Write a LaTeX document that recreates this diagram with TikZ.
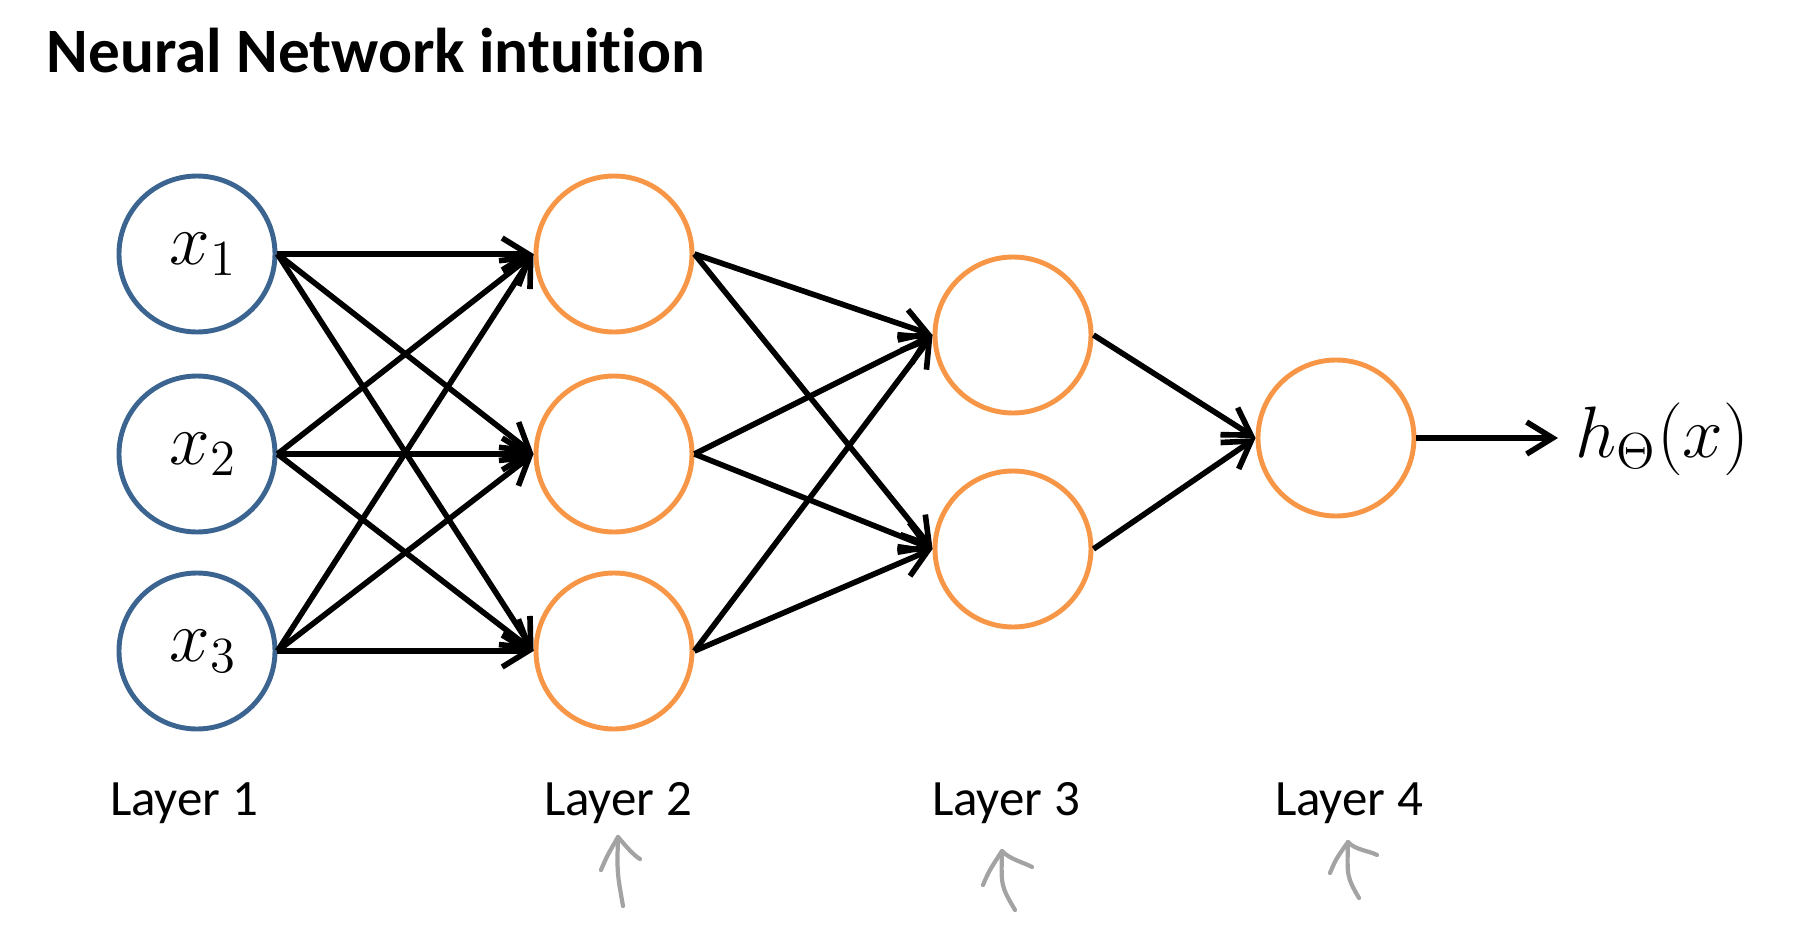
\documentclass[tikz,border=0pt]{standalone}
\usepackage{fontspec}
\setmainfont{Carlito}[Ligatures=NoCommon]
\usetikzlibrary{arrows.meta}
\definecolor{inblue}{HTML}{3B6590}
\definecolor{hidorange}{HTML}{F79646}
\definecolor{pengray}{HTML}{A3A3A3}
\begin{document}
\begin{tikzpicture}[line join=round,
	neuron/.style={circle,minimum size=1.56cm,inner sep=0pt,line width=1.4pt},
	inneuron/.style={neuron,draw=inblue},
	hidneuron/.style={neuron,draw=hidorange},
	mathtext/.style={font=\fontsize{20.5}{24}\selectfont},
	link/.style={line width=1.6pt,-{Straight Barb[length=2.6mm,width=3.2mm,line width=1.6pt]}},
	layerlabel/.style={anchor=base,font=\fontsize{14.5}{17}\selectfont},
	pen/.style={pengray,line width=1.2pt,line cap=round}]
		\useasboundingbox (0,0) rectangle (18.2,9.34);
		%==Tiêu đề
		\node[anchor=base west,inner sep=0pt,font=\bfseries\fontsize{18}{22}\selectfont] (T) at (0.46,8.62) {Neural Network intuition};
		%==Các nút mạng
		\node[inneuron] (A1) at (1.97,6.80) {};
		\node[inneuron] (A2) at (1.97,4.80) {};
		\node[inneuron] (A3) at (1.97,2.83) {};
		\foreach \i in {1,2,3}\node[mathtext] (N\i) at ([xshift=0.06cm]A\i) {$x_\i$};
		\node[hidneuron] (B1) at (6.14,6.80) {};
		\node[hidneuron] (B2) at (6.14,4.80) {};
		\node[hidneuron] (B3) at (6.14,2.83) {};
		\node[hidneuron] (C1) at (10.13,5.99) {};
		\node[hidneuron] (C2) at (10.13,3.85) {};
		\node[hidneuron] (D) at (13.36,4.96) {};
		\node[anchor=west,inner sep=0.17cm,font=\fontsize{21.5}{25}\selectfont] (H) at (15.58,4.95) {$h_\Theta(x)$};
		%==Các cung
		\foreach \i in {1,2,3}\foreach \j in {1,2,3}\draw[link] (A\i.east)--(B\j.west);
		\foreach \i in {1,2,3}\foreach \j in {1,2}\draw[link] (B\i.east)--(C\j.west);
		\foreach \j in {1,2}\draw[link] (C\j.east)--(D.west);
		\draw[link] (D.east)--(D.east-|H.west);
		%==Tên các lớp
		\node[layerlabel] (L1) at (1.84,1.19) {Layer 1};
		\node[layerlabel] (L2) at (6.18,1.19) {Layer 2};
		\node[layerlabel] (L3) at (10.06,1.19) {Layer 3};
		\node[layerlabel] (L4) at (13.49,1.19) {Layer 4};
		%==Mũi tên vẽ tay
		\foreach \lx/\ly/\tx/\ty/\rx/\ry/\bx/\by in {6.01/0.64/6.18/0.97/6.40/0.75/6.23/0.28,
			9.83/0.49/10.02/0.83/10.32/0.67/10.15/0.24,
			13.30/0.61/13.48/0.92/13.77/0.79/13.59/0.36}{
			\draw[pen] (\lx,\ly) .. controls (\lx+0.06,\ly+0.14) .. (\tx,\ty) .. controls (\tx+0.07,\ty-0.08) and (\rx-0.07,\ry+0.04) .. (\rx,\ry);
			\draw[pen] (\tx,\ty) .. controls (\tx-0.01,\ty-0.35) .. (\bx,\by);
		}
		\end{tikzpicture}
\end{document}
